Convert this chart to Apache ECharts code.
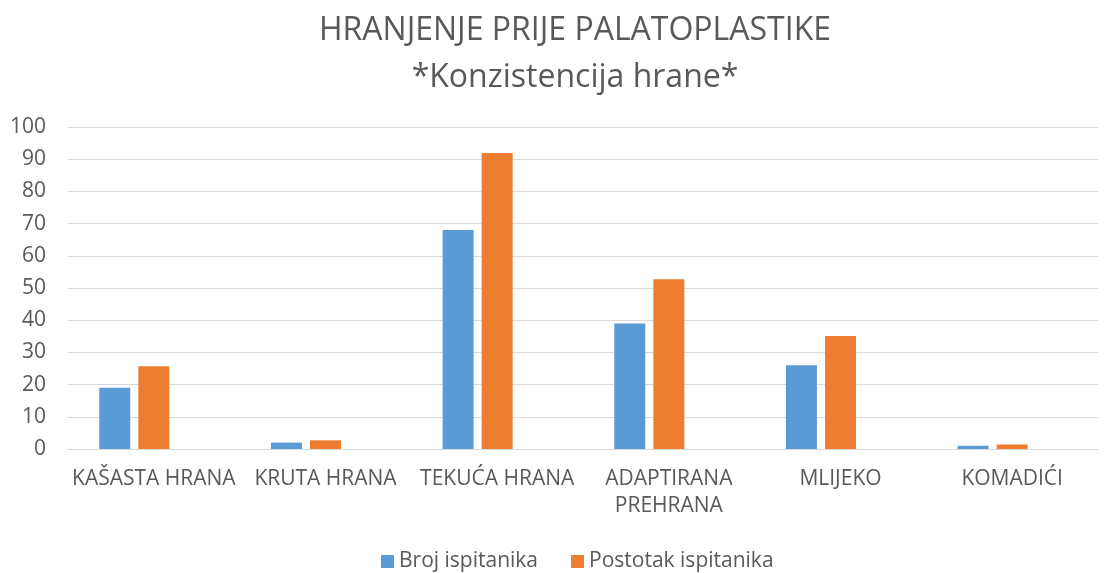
<!DOCTYPE html>
<html>
<head>
<meta charset="utf-8">
<script src="https://cdn.jsdelivr.net/npm/echarts@6/dist/echarts.min.js"></script>
<style>
html, body { margin: 0; padding: 0; background: #fff; }
#chart { width: 1113px; height: 573px; }
</style>
</head>
<body>
<div id="chart"></div>
<script>
// podaci s grafa
var categories = ['KAŠASTA HRANA', 'KRUTA HRANA', 'TEKUĆA HRANA', 'ADAPTIRANA\nPREHRANA', 'MLIJEKO', 'KOMADIĆI'];
var broj = [19, 2, 68, 39, 26, 1];
var postotak = [25.7, 2.7, 91.9, 52.7, 35.1, 1.4];
var prazno = [null, null, null, null, null, null];   // treća (prazna) serija iz originala
var yTicks = { min: 0, max: 100, interval: 10 };

var textColor = '#595959';
var font = 'Open Sans';

var myChart = echarts.init(document.getElementById('chart'));

var option = {
	animation: false,
	title: {
		text: 'HRANJENJE PRIJE PALATOPLASTIKE\n*Konzistencija hrane*',
		left: 570,
		textAlign: 'center',
		top: 2,
		textStyle: {
			color: textColor,
			fontFamily: font,
			fontWeight: 'normal',
			fontSize: 32,
			lineHeight: 47
		}
	},
	legend: {
		data: ['Broj ispitanika', 'Postotak ispitanika'],
		top: 546,
		left: 376,
		itemWidth: 13,
		itemHeight: 13,
		itemGap: 33,
		icon: 'rect',
		textStyle: { color: textColor, fontFamily: font, fontSize: 21 }
	},
	grid: { left: 68, right: 15, top: 127, bottom: 124, containLabel: false },
	xAxis: {
		type: 'category',
		data: categories,
		axisLine: { lineStyle: { color: '#D9D9D9', width: 1 } },
		axisTick: { show: false },
		axisLabel: {
			color: textColor,
			fontFamily: font,
			fontSize: 21,
			margin: 17,
			lineHeight: 27,
			interval: 0
		}
	},
	yAxis: {
		type: 'value',
		min: yTicks.min,
		max: yTicks.max,
		interval: yTicks.interval,
		axisLine: { show: false },
		axisTick: { show: false },
		splitLine: { lineStyle: { color: '#D9D9D9', width: 1 } },
		axisLabel: { color: textColor, fontFamily: font, fontSize: 21, margin: 22 }
	},
	series: [
		{
			name: 'Broj ispitanika',
			type: 'bar',
			data: broj,
			barWidth: 31,
			barGap: '26%',
			itemStyle: { color: '#5B9BD5' }
		},
		{
			name: 'Postotak ispitanika',
			type: 'bar',
			data: postotak,
			barWidth: 31,
			barGap: '26%',
			itemStyle: { color: '#ED7D31' }
		},
		{
			name: '',
			type: 'bar',
			data: prazno,
			barWidth: 31,
			barGap: '26%',
			itemStyle: { color: '#A5A5A5' }
		}
	]
};

myChart.setOption(option);
</script>
</body>
</html>
